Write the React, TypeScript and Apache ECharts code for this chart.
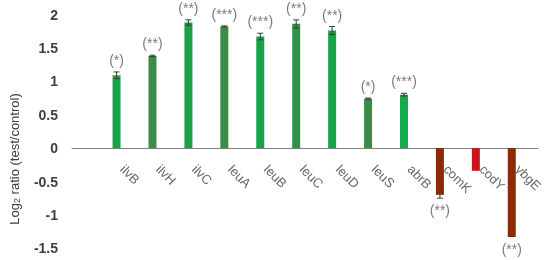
import React, { useEffect, useRef } from "react";
import * as echarts from "echarts";

const genes = ["ilvB", "ilvH", "ilvC", "leuA", "leuB", "leuC", "leuD", "leuS", "abrB", "comK", "codY", "ybgE"];
const log2Ratio = [1.09, 1.38, 1.88, 1.82, 1.67, 1.86, 1.76, 0.74, 0.8, -0.7, -0.34, -1.33];
const errors = [0.05, 0.01, 0.04, 0.01, 0.05, 0.06, 0.06, 0.01, 0.02, 0.05, 0, 0];
const significance = ["(*)", "(**)", "(**)", "(***)", "(***)", "(**)", "(**)", "(*)", "(***)", "(**)", "", "(**)"];
const barColors = ["#17a449", "#3a8c47", "#1f9e48", "#3a8c47", "#17a449", "#2e9146", "#17a449", "#3a8c47", "#12ac4d", "#8c2a06", "#c8161a", "#8e2a06"];
const yTicks = { min: -1.5, max: 2, interval: 0.5 };

export default function App() {
  const ref = useRef<HTMLDivElement>(null);
  useEffect(() => {
    if (!ref.current) return;
    const chart = echarts.init(ref.current, null, { renderer: "svg" });
    const font = "Liberation Sans, Arial, sans-serif";
    chart.setOption({
      animation: false,
      grid: { left: 72, right: 12, top: 14.5, bottom: 11.7, outerBoundsMode: "none", containLabel: false },
      xAxis: {
        type: "value",
        min: -1.24,
        max: 11.73,
        splitLine: { show: false },
        axisLine: { show: true, onZero: true, lineStyle: { color: "#808080", width: 1 } },
        axisTick: { show: false },
        axisLabel: { show: false },
      },
      yAxis: {
        type: "value",
        min: yTicks.min,
        max: yTicks.max,
        interval: yTicks.interval,
        splitLine: { show: false },
        axisLine: { show: false },
        axisTick: { show: false },
        axisLabel: {
          fontSize: 14,
          fontWeight: "bold",
          color: "#404040",
          fontFamily: font,
          margin: 14,
        },
      },
      graphic: [
        {
          type: "text",
          x: 14,
          y: 159,
          rotation: Math.PI / 2,
          style: {
            text: "{a|Log}{s|2}{a| ratio (test/control)}",
            align: "center",
            verticalAlign: "middle",
            fill: "#404040",
            font: `13px ${font}`,
            rich: {
              a: { fontSize: 13, fontFamily: font, fill: "#404040", color: "#404040" },
              s: { fontSize: 9, fontFamily: font, fill: "#404040", color: "#404040", padding: [6, 0, 0, 0] },
            },
          },
        },
      ],
      series: [
        {
          type: "bar",
          barWidth: 8,
          data: log2Ratio.map((v, i) => ({ value: [i, v], itemStyle: { color: barColors[i] } })),
        },
        {
          type: "custom",
          data: log2Ratio.map((v, i) => [i, v, errors[i]]),
          renderItem: (params: any, api: any) => {
            const x = api.value(0);
            const v = api.value(1);
            const e = api.value(2);
            if (!e) return null;
            const p1 = api.coord([x, v - e]);
            const p2 = api.coord([x, v + e]);
            const style = { stroke: "#3a3a3a", lineWidth: 1 };
            return {
              type: "group",
              children: [
                { type: "line", shape: { x1: p1[0], y1: p1[1], x2: p2[0], y2: p2[1] }, style },
                { type: "line", shape: { x1: p1[0] - 3, y1: p1[1], x2: p1[0] + 3, y2: p1[1] }, style },
                { type: "line", shape: { x1: p2[0] - 3, y1: p2[1], x2: p2[0] + 3, y2: p2[1] }, style },
              ],
            };
          },
          z: 5,
        },
        {
          type: "scatter",
          symbolSize: 0,
          silent: true,
          data: log2Ratio.map((v, i) => ({
            value: [i, v + Math.sign(v) * errors[i]],
            label: { position: v >= 0 ? "top" : "bottom" },
          })),
          label: {
            show: true,
            distance: 5,
            formatter: (p: any) => significance[p.dataIndex],
            fontSize: 14,
            color: "#595959",
            fontFamily: font,
          },
        },
        {
          type: "scatter",
          symbolSize: 0,
          silent: true,
          z: 6,
          data: genes.map((_, i) => [i, 0]),
          label: {
            show: true,
            position: [6, 19],
            rotate: -45,
            align: "left",
            verticalAlign: "middle",
            formatter: (p: any) => genes[p.dataIndex],
            fontSize: 13,
            color: "#404040",
            fontFamily: font,
          },
        },
      ],
    });
    return () => chart.dispose();
  }, []);
  return <div ref={ref} style={{ position: "fixed", left: 0, top: 0, width: 550, height: 260 }} />;
}
